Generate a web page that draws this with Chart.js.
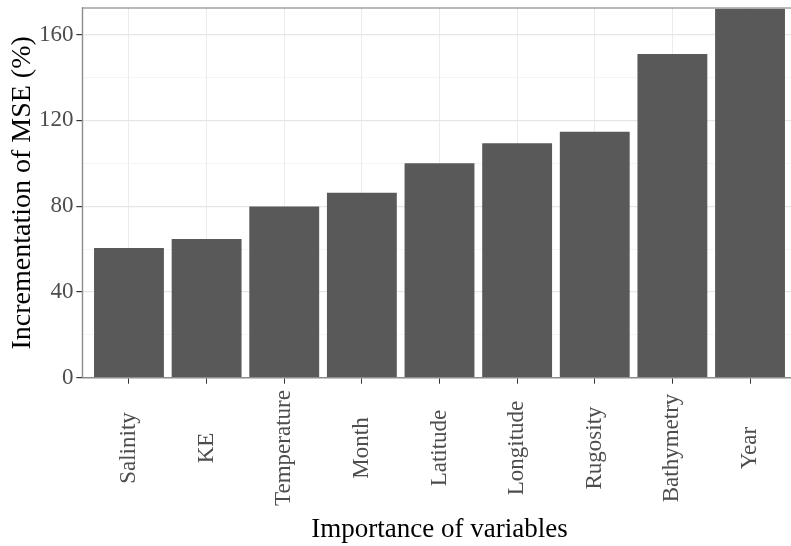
<!DOCTYPE html>
<html>
<head>
<meta charset="utf-8">
<script src="https://cdn.jsdelivr.net/npm/chart.js@4/dist/chart.umd.min.js"></script>
<style>
  html, body { margin: 0; padding: 0; background: #fff; overflow: hidden; }
  #wrap { width: 810px; height: 546px; }
</style>
</head>
<body>
<div id="wrap"><canvas id="c" width="810" height="546"></canvas></div>
<script>
const categories = ["Salinity", "KE", "Temperature", "Month", "Latitude", "Longitude", "Rugosity", "Bathymetry", "Year"];
const mseIncrease = [60.5, 64.7, 79.8, 86.2, 100.0, 109.3, 114.7, 151.0, 172.0];
const yTicks = [0, 20, 40, 60, 80, 100, 120, 140, 160];
const yLabelTicks = [0, 40, 80, 120, 160];
const yTitle = "Incrementation of MSE (%)";
const xTitle = "Importance of variables";

const SERIF = "'Liberation Serif', 'Times New Roman', serif";

const frame = {
  id: 'frame',
  afterDraw(chart) {
    const a = chart.chartArea, ctx = chart.ctx;
    ctx.save();
    ctx.strokeStyle = '#8c8c8c';
    ctx.lineWidth = 1.2;
    ctx.strokeRect(a.left, a.top, a.right - a.left, a.bottom - a.top);
    // rotated, centred category labels
    const xs = chart.scales.x;
    ctx.fillStyle = '#4d4d4d';
    ctx.font = "23px " + SERIF;
    ctx.textAlign = 'center';
    ctx.textBaseline = 'middle';
    categories.forEach((c, i) => {
      const px = xs.getPixelForValue(i + 1);
      ctx.save();
      ctx.translate(px, 448);
      ctx.rotate(-Math.PI / 2);
      ctx.fillText(c, 0, 0);
      ctx.restore();
    });
    ctx.restore();
  }
};

new Chart(document.getElementById('c'), {
  type: 'bar',
  data: {
    datasets: [{
      data: mseIncrease.map((v, i) => ({ x: i + 1, y: v })),
      backgroundColor: '#595959',
      borderWidth: 0,
      categoryPercentage: 1.0,
      barPercentage: 0.9
    }]
  },
  options: {
    responsive: false,
    animation: false,
    layout: { padding: { top: 8, right: 13.4, bottom: 0, left: 0 } },
    plugins: { legend: { display: false }, tooltip: { enabled: false } },
    scales: {
      x: {
        type: 'linear',
        offset: false,
        min: 0.4,
        max: 9.6,
        afterBuildTicks(scale) { scale.ticks = categories.map((c, i) => ({ value: i + 1 })); },
        afterFit(scale) {
          scale.height = 546 - 377.7;
          scale.paddingLeft = 0; scale.paddingRight = 0;
          scale.paddingTop = 0; scale.paddingBottom = 0;
        },
        ticks: { display: false },
        grid: { offset: false, color: '#ebebeb', lineWidth: 1, tickColor: '#333333', tickLength: 6, drawTicks: true },
        border: { display: true, color: '#8c8c8c', width: 1.2 },
        title: {
          display: true, text: xTitle, color: '#000',
          font: { family: SERIF, size: 27 }, padding: { top: 7.5, bottom: 0 }
        }
      },
      y: {
        min: 0,
        max: 172.4,
        afterBuildTicks(scale) { scale.ticks = yTicks.map(v => ({ value: v })); },
        afterFit(scale) {
          scale.width = 82.4;
          scale.paddingTop = 0; scale.paddingBottom = 0;
          scale.paddingLeft = 0; scale.paddingRight = 0;
        },
        ticks: {
          color: '#4d4d4d', padding: 3,
          font: { family: SERIF, size: 23 },
          callback: (v) => yLabelTicks.includes(v) ? String(v) : ''
        },
        grid: {
          color: (ctx) => (ctx.tick && yLabelTicks.includes(ctx.tick.value)) ? '#e6e6e6' : '#f2f2f2',
          lineWidth: (ctx) => (ctx.tick && yLabelTicks.includes(ctx.tick.value)) ? 1.2 : 0.8,
          tickColor: (ctx) => (ctx.tick && yLabelTicks.includes(ctx.tick.value)) ? '#333333' : 'rgba(0,0,0,0)',
          tickLength: 6, drawTicks: true
        },
        border: { display: true, color: '#8c8c8c', width: 1.2 },
        title: {
          display: true, text: yTitle, color: '#000',
          font: { family: SERIF, size: 28 }, padding: { top: 6.2, bottom: 0 }
        }
      }
    }
  },
  plugins: [frame]
});
</script>
</body>
</html>
